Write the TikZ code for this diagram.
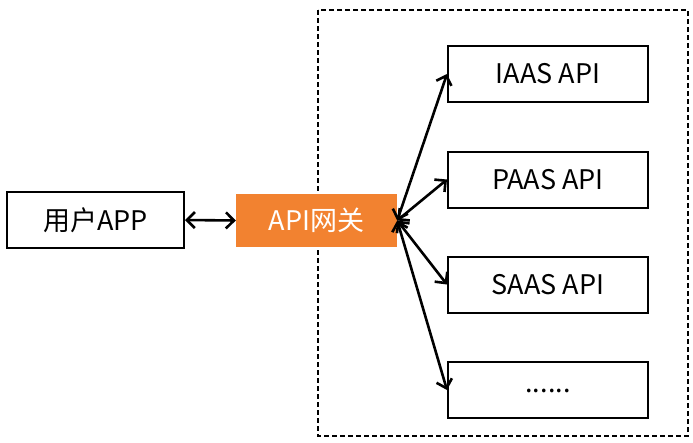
\documentclass[tikz,border=0pt]{standalone}
\usepackage{fontspec}
\setmainfont{Noto Sans CJK SC}
\usetikzlibrary{arrows.meta}
\definecolor{gworange}{RGB}{242,130,48}
\tikzset{
  box/.style={draw=black, line width=2pt, minimum width=#1, minimum height=56pt, inner sep=0pt, font=\fontsize{27}{30}\selectfont},
  box/.default=200pt,
  gw/.style={fill=gworange, draw=none, minimum width=161pt, minimum height=53pt, inner sep=0pt, text=white, font=\fontsize{27}{30}\selectfont},
  conn/.style={line width=2.6pt, {Straight Barb[length=8pt,width=16pt]}-{Straight Barb[length=8pt,width=16pt]}},
  group/.style={draw=black, dash pattern=on 5pt off 3pt, line width=1.5pt}
}
\begin{document}
\begin{tikzpicture}[x=1pt,y=-1pt]
\useasboundingbox (0,0) rectangle (693,442);
\draw[group] (318,10) rectangle (688,436);
\node[box=177pt] (app) at (95.5,220) {用户APP};
\node[gw] (gw) at (316.5,220.5) {API网关};
\node[box] (iaas) at (548,74) {IAAS API};
\node[box] (paas) at (548,179.5) {PAAS API};
\node[box] (saas) at (548,284.5) {SAAS API};
\node[box] (more) at (548,390) {\raisebox{-5pt}{......}};
\draw[conn] (app.east) -- (gw.west);
\draw[conn] (gw.east) -- (iaas.west);
\draw[conn] (gw.east) -- (paas.west);
\draw[conn] (gw.east) -- (saas.west);
\draw[conn] (gw.east) -- (more.west);
\end{tikzpicture}
\end{document}
